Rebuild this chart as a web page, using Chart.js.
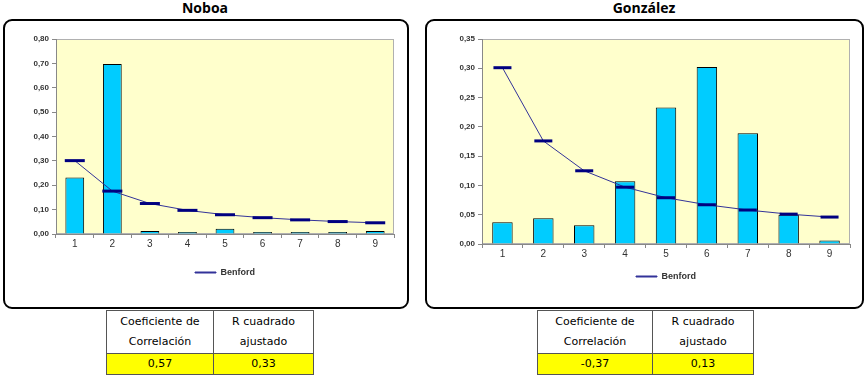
<!DOCTYPE html>
<html>
<head>
<meta charset="utf-8">
<script src="https://cdn.jsdelivr.net/npm/chart.js@4"></script>
<style>
  body { margin: 0; background: #fff; width: 865px; height: 376px; position: relative; overflow: hidden; font-family: "Open Sans", sans-serif; }
  .title { position: absolute; top: -2px; font-weight: bold; font-size: 14px; color: #000; text-align: center; width: 200px; }
  .box { position: absolute; top: 19px; height: 286px; border: 2px solid #000; border-radius: 9px; box-sizing: content-box; }
  canvas { position: absolute; }
  table { position: absolute; top: 310px; border-collapse: collapse; font-family: "DejaVu Sans", sans-serif; font-size: 11px; color: #000; }
  td { border: 1px solid #555; text-align: center; padding: 0; line-height: 20px; }
  tr.vals td { background: #ffff00; height: 20px; }
</style>
</head>
<body>
<div class="title" style="left:105px">Noboa</div>
<div class="title" style="left:544px">González</div>
<div class="box" style="left:3px; width:402px"></div>
<div class="box" style="left:425px; width:435px"></div>
<canvas id="noboa" width="403" height="287" style="left:4px; top:20px"></canvas>
<canvas id="gonzalez" width="436" height="287" style="left:426px; top:20px"></canvas>

<table style="left:106px">
  <tr><td style="width:106px; height:42px">Coeficiente de<br>Correlación</td><td style="width:99px">R cuadrado<br>ajustado</td></tr>
  <tr class="vals"><td id="nc"></td><td id="nr"></td></tr>
</table>
<table style="left:537px">
  <tr><td style="width:114px; height:42px">Coeficiente de<br>Correlación</td><td style="width:100px">R cuadrado<br>ajustado</td></tr>
  <tr class="vals"><td id="gc"></td><td id="gr"></td></tr>
</table>

<script>
// first digit 1..9
var digits = ['1', '2', '3', '4', '5', '6', '7', '8', '9'];
// Benford expected frequency
var benford = [0.301, 0.176, 0.125, 0.097, 0.079, 0.067, 0.058, 0.051, 0.046];
// observed frequencies
var noboa = [0.232, 0.697, 0.012, 0.003, 0.022, 0.003, 0.001, 0.003, 0.012];
var gonzalez = [0.037, 0.044, 0.032, 0.107, 0.233, 0.302, 0.189, 0.050, 0.006];
// tick labels
var noboaTicks = ['0,00', '0,10', '0,20', '0,30', '0,40', '0,50', '0,60', '0,70', '0,80'];
var gonzalezTicks = ['0,00', '0,05', '0,10', '0,15', '0,20', '0,25', '0,30', '0,35'];
// table stats
var noboaStats = ['0,57', '0,33'];
var gonzalezStats = ['-0,37', '0,13'];

document.getElementById('nc').textContent = noboaStats[0];
document.getElementById('nr').textContent = noboaStats[1];
document.getElementById('gc').textContent = gonzalezStats[0];
document.getElementById('gr').textContent = gonzalezStats[1];

var plotBg = {
    id: 'plotBg',
    beforeDraw: function (chart) {
        var a = chart.chartArea, c = chart.ctx;
        c.save();
        c.fillStyle = '#ffffcc';
        c.fillRect(a.left, a.top, a.width, a.height);
        c.strokeStyle = '#b0b0b0';
        c.lineWidth = 1;
        c.strokeRect(a.left + 0.5, a.top + 0.5, a.width - 1, a.height - 1);
        c.restore();
    }
};

function makeChart(id, values, ticks, max, step, cfg) {
    return new Chart(document.getElementById(id), {
        type: 'bar',
        data: {
            labels: digits,
            datasets: [{
                type: 'line',
                label: 'Benford',
                data: benford,
                borderColor: '#333399',
                backgroundColor: '#333399',
                borderWidth: 1,
                tension: 0,
                pointStyle: 'line',
                pointRadius: cfg.marker,
                pointBorderWidth: 3,
                pointBorderColor: '#000080'
            }, {
                label: 'obs',
                data: values,
                backgroundColor: '#00ccff',
                borderColor: '#000',
                borderWidth: 1,
                minBarLength: 2,
                barPercentage: 0.5,
                categoryPercentage: 1
            }]
        },
        options: {
            responsive: false,
            animation: false,
            devicePixelRatio: 1,
            layout: { padding: { top: 19, right: cfg.right, bottom: cfg.bottom, left: 0 } },
            plugins: {
                tooltip: { enabled: false },
                legend: {
                    position: 'bottom',
                    fullSize: false,
                    labels: {
                        filter: function (item) { return item.datasetIndex === 0; },
                        boxWidth: 21,
                        boxHeight: 1,
                        padding: 10,
                        color: '#333',
                        font: { family: 'Liberation Sans', size: 9, weight: 'bold' }
                    }
                }
            },
            scales: {
                x: {
                    grid: { offset: true, drawOnChartArea: false, tickLength: 4, color: '#888' },
                    border: { color: '#888' },
                    ticks: { color: '#333', padding: 0, font: { family: 'Liberation Sans', size: 10 } },
                    afterFit: function (s) { s.height = cfg.xh; }
                },
                y: {
                    min: 0,
                    max: max,
                    grid: { drawOnChartArea: false, tickLength: 4, color: '#888' },
                    border: { color: '#888' },
                    ticks: {
                        stepSize: step,
                        color: '#333',
                        padding: 3,
                        font: { family: 'Liberation Sans', size: 8, weight: 'bold' },
                        callback: function (v, i) { return ticks[i]; }
                    },
                    afterFit: function (s) { s.width = cfg.yw; }
                }
            }
        },
        plugins: [plotBg]
    });
}

makeChart('noboa', noboa, noboaTicks, 0.8, 0.1, { right: 10, bottom: 20, xh: 24, yw: 52, marker: 10 });
makeChart('gonzalez', gonzalez, gonzalezTicks, 0.35, 0.05, { right: 3, bottom: 16, xh: 18, yw: 56, marker: 9 });
</script>
</body>
</html>
